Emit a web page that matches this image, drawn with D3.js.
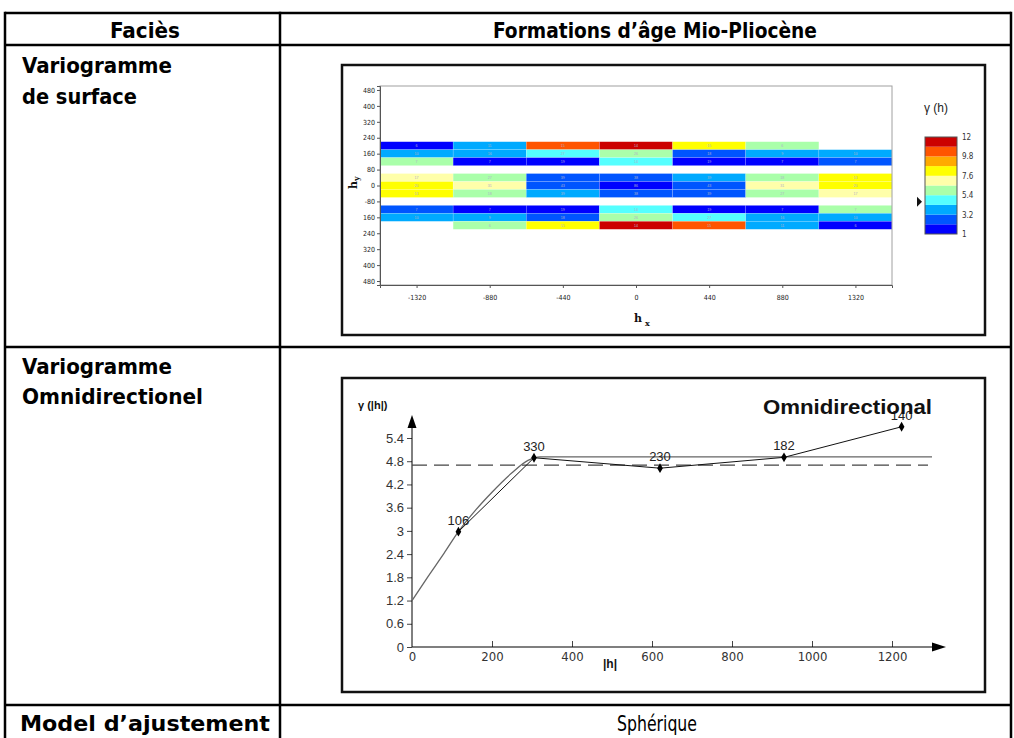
<!DOCTYPE html>
<html>
<head>
<meta charset="utf-8">
<script src="https://cdn.jsdelivr.net/npm/d3@7"></script>
<style>
	body { margin: 0; background: #fff; }
	svg { display: block; }
	.cond { font-family: 'Liberation Sans Narrow', 'DejaVu Sans Condensed', sans-serif; }
	.arial { font-family: 'Liberation Sans', Arial, sans-serif; }
</style>
</head>
<body>
<svg id="fig" width="1014" height="738"></svg>
<script>
// ---- variogram map (surface) ----
const hxCenters = [-1320, -880, -440, 0, 440, 880, 1320];
const hyCenters = [200, 160, 120, 40, 0, -40, -120, -160, -200];
const gammaMap = [
	[1.6, 3.9, 10.3, 11.6, 8.1, 5.9, null],
	[3.7, 3.8, 4.8, 6.1, 2.6, 3.9, 3.6],
	[5.8, 1.5, 1.7, 4.9, 1.8, 1.4, 2.8],
	[7.1, 6.0, 2.5, 2.7, 3.6, 6.2, 8.0],
	[8.3, 7.0, 2.6, 1.4, 2.6, 7.0, 8.3],
	[8.0, 6.2, 3.6, 2.7, 2.5, 6.0, 7.1],
	[2.8, 1.4, 1.8, 4.9, 1.7, 1.5, 5.8],
	[3.6, 3.9, 2.6, 6.1, 4.8, 3.8, 3.7],
	[null, 5.9, 8.1, 11.6, 10.3, 3.9, 1.6]
];
const pairMap = [
	[6, 11, 15, 14, 15, 6, null],
	[10, 16, 27, 26, 18, 9, 10],
	[7, 7, 19, 14, 19, 7, 7],
	[17, 27, 39, 38, 39, 18, 13],
	[20, 31, 43, 86, 43, 31, 20],
	[13, 18, 39, 38, 39, 27, 17],
	[7, 7, 19, 14, 19, 7, 7],
	[10, 9, 18, 26, 27, 16, 10],
	[null, 6, 15, 14, 15, 11, 6]
];
const mapYTicks = [480, 400, 320, 240, 160, 80, 0, -80, -160, -240, -320, -400, -480];
const mapYLabels = ['480', '400', '320', '240', '160', '80', '0', '-80', '160', '240', '320', '400', '480'];
const legendTicks = [12, 9.8, 7.6, 5.4, 3.2, 1];
const bandColors = ['#0000ff', '#0055ff', '#00aaff', '#55ffff', '#aaffaa', '#ffffaa', '#ffff00', '#ffaa00', '#ff5500', '#cc0000'];
const sillMarker = 4.65;

// ---- omnidirectional variogram ----
const lagH = [116, 305, 620, 930, 1224];
const gammaExp = [2.98, 4.89, 4.62, 4.90, 5.69];
const pairLabels = ['106', '330', '230', '182', '140'];
const modelH = [0, 40, 80, 116, 160, 200, 250, 290, 320, 1300];
const modelG = [1.2, 1.82, 2.42, 2.98, 3.55, 4.0, 4.5, 4.82, 4.91, 4.91];
const varianceLine = 4.7;
const varianceEnd = 1290;
const omniYTicks = [0, 0.6, 1.2, 1.8, 2.4, 3, 3.6, 4.2, 4.8, 5.4];
const omniXTicks = [0, 200, 400, 600, 800, 1000, 1200];

const svg = d3.select('#fig');
const plain = d => String(d);

// ---------- table ----------
const tbl = { left: 5, mid: 280, right: 1011, rows: [13, 45, 347, 705], bottom: 740 };
const grid = svg.append('g').attr('stroke', '#000').attr('stroke-width', 2.5);
grid.append('line').attr('x1', tbl.left).attr('x2', tbl.right).attr('y1', tbl.rows[0]).attr('y2', tbl.rows[0]);
tbl.rows.slice(1).forEach(y => {
	grid.append('line').attr('x1', tbl.left).attr('x2', tbl.right).attr('y1', y).attr('y2', y);
});
[tbl.left, tbl.mid, tbl.right].forEach(x => {
	grid.append('line').attr('x1', x).attr('x2', x).attr('y1', tbl.rows[0] - 1.25).attr('y2', tbl.bottom);
});

// text, x, baseline, anchor, bold, width in the reference
function cell(txt, x, y, anchor, bold, w) {
	svg.append('text').attr('class', 'cond').attr('x', x).attr('y', y)
		.attr('text-anchor', anchor).attr('font-size', 22)
		.attr('font-weight', bold ? 'bold' : 'normal').attr('fill', '#000')
		.attr('textLength', w).attr('lengthAdjust', 'spacingAndGlyphs')
		.text(txt);
}
cell('Faciès', 145, 38, 'middle', true, 70);
cell('Formations d’âge Mio-Pliocène', 655, 38, 'middle', true, 324);
cell('Variogramme', 22, 73, 'start', true, 150);
cell('de surface', 22, 104, 'start', true, 115);
cell('Variogramme', 22, 374, 'start', true, 150);
cell('Omnidirectionel', 22, 404, 'start', true, 181);
cell('Model d’ajustement', 145, 731, 'middle', true, 250);
cell('Sphérique', 657, 731, 'middle', false, 80);

// ---------- surface variogram map ----------
svg.append('rect').attr('x', 342).attr('y', 65).attr('width', 643).attr('height', 270)
	.attr('fill', '#fff').attr('stroke', '#111').attr('stroke-width', 2.5);

const mx = d3.scaleLinear().domain([-1540, 1540]).range([380, 892]);
const my = d3.scaleLinear().domain([-500, 500]).range([285, 86]);
const col = d3.scaleQuantize().domain([1, 12]).range(bandColors);
const halfX = 220, halfY = 20;

const cells = [];
hyCenters.forEach((hy, r) => hxCenters.forEach((hx, c) => {
	if (gammaMap[r][c] != null) cells.push({ hx: hx, hy: hy, g: gammaMap[r][c], n: pairMap[r][c] });
}));

const map = svg.append('g');
map.selectAll('rect.cell').data(cells).enter().append('rect')
	.attr('class', 'cell')
	.attr('x', d => mx(d.hx - halfX))
	.attr('y', d => my(d.hy + halfY))
	.attr('width', d => mx(d.hx + halfX) - mx(d.hx - halfX))
	.attr('height', d => my(d.hy - halfY) - my(d.hy + halfY))
	.attr('fill', d => col(d.g))
	.attr('stroke', 'rgba(255,255,255,0.3)').attr('stroke-width', 0.5);
map.selectAll('text.cnt').data(cells).enter().append('text')
	.attr('class', 'cnt arial')
	.attr('x', d => mx(d.hx)).attr('y', d => my(d.hy) + 1.3)
	.attr('text-anchor', 'middle').attr('font-size', 3.6)
	.attr('fill', '#b0b0c8').text(d => d.n);

// plot frame
svg.append('rect').attr('x', 380).attr('y', 86).attr('width', 512).attr('height', 199)
	.attr('fill', 'none').attr('stroke', '#a0a0a0').attr('stroke-width', 1);

const yAx = svg.append('g').attr('transform', 'translate(380,0)')
	.call(d3.axisLeft(my).tickValues(mapYTicks).tickFormat((d, i) => mapYLabels[i]).tickSize(3).tickPadding(2));
const xAx = svg.append('g').attr('transform', 'translate(0,285)')
	.call(d3.axisBottom(mx).tickValues(hxCenters).tickFormat(plain).tickSize(3).tickPadding(7));
[yAx, xAx].forEach(a => {
	a.select('.domain').attr('stroke', '#555');
	a.selectAll('.tick line').attr('stroke', '#555');
	a.selectAll('.tick text').attr('class', 'cond').attr('font-size', 7).attr('fill', '#222');
});

const hyLab = svg.append('text').attr('transform', 'translate(357,189) rotate(-90)')
	.attr('font-family', 'DejaVu Serif, serif').attr('font-weight', 'bold').attr('font-size', 11).attr('fill', '#111');
hyLab.append('tspan').text('h');
hyLab.append('tspan').attr('font-size', 8).attr('dy', 2).text('y');
const hxLab = svg.append('text').attr('x', 634).attr('y', 322)
	.attr('font-family', 'DejaVu Serif, serif').attr('font-weight', 'bold').attr('font-size', 11).attr('fill', '#111');
hxLab.append('tspan').text('h');
hxLab.append('tspan').attr('font-size', 8).attr('dx', 3).attr('dy', 4).text('x');

// legend
const ly = d3.scaleLinear().domain([1, 12]).range([234, 137]);
const bw = (12 - 1) / bandColors.length;
svg.append('g').selectAll('rect').data(bandColors).enter().append('rect')
	.attr('x', 925).attr('width', 32)
	.attr('y', (d, i) => ly(1 + (i + 1) * bw))
	.attr('height', (d, i) => ly(1 + i * bw) - ly(1 + (i + 1) * bw))
	.attr('fill', d => d);
svg.append('rect').attr('x', 925).attr('y', 137).attr('width', 32).attr('height', 97)
	.attr('fill', 'none').attr('stroke', '#555').attr('stroke-width', 1);
const lAx = svg.append('g').attr('transform', 'translate(957,0)')
	.call(d3.axisRight(ly).tickValues(legendTicks).tickFormat(plain).tickSize(0).tickPadding(5));
lAx.select('.domain').remove();
lAx.selectAll('.tick text').attr('class', 'cond').attr('font-size', 8).attr('fill', '#333');
svg.append('text').attr('class', 'arial').attr('x', 924).attr('y', 112)
	.attr('font-size', 12).attr('fill', '#222').text('γ (h)');
svg.append('path')
	.attr('d', 'M0,-5L5,0L0,5Z')
	.attr('transform', 'translate(917,' + ly(sillMarker) + ')')
	.attr('fill', '#111');

// ---------- omnidirectional variogram ----------
svg.append('rect').attr('x', 342).attr('y', 378).attr('width', 643).attr('height', 314)
	.attr('fill', '#fff').attr('stroke', '#111').attr('stroke-width', 2.5);

const ox = d3.scaleLinear().domain([0, 1200]).range([412, 892]);
const oy = d3.scaleLinear().domain([0, 5.4]).range([647, 438]);

const oyAx = svg.append('g').attr('transform', 'translate(412,0)')
	.call(d3.axisLeft(oy).tickValues(omniYTicks).tickFormat(plain).tickSize(5).tickPadding(3));
oyAx.select('.domain').remove();
oyAx.selectAll('.tick line').attr('stroke', '#444');
oyAx.selectAll('.tick text').attr('class', 'arial').attr('font-size', 13).attr('fill', '#333');

const oxAx = svg.append('g').attr('transform', 'translate(0,647)')
	.call(d3.axisBottom(ox).tickValues(omniXTicks).tickFormat(plain).tickSizeInner(-6).tickSizeOuter(0).tickPadding(5));
oxAx.select('.domain').remove();
oxAx.selectAll('.tick line').attr('stroke', '#444').filter(d => d === 0).remove();
oxAx.selectAll('.tick text').attr('class', 'cond').attr('font-size', 13).attr('fill', '#333');

// axis lines with arrows
svg.append('line').attr('x1', 412).attr('x2', 412).attr('y1', 647).attr('y2', 426).attr('stroke', '#000');
svg.append('line').attr('x1', 412).attr('x2', 934).attr('y1', 647).attr('y2', 647).attr('stroke', '#000').attr('stroke-width', 1.2);
svg.append('path').attr('d', 'M412,415L416.5,428L407.5,428Z').attr('fill', '#000');
svg.append('path').attr('d', 'M946,647L932,642.5L932,651.5Z').attr('fill', '#000');

// variance (dashed)
svg.append('line').attr('x1', ox(0)).attr('x2', ox(varianceEnd))
	.attr('y1', oy(varianceLine)).attr('y2', oy(varianceLine))
	.attr('stroke', '#444').attr('stroke-width', 1.1).attr('stroke-dasharray', '15,7');

// model
const model = modelH.map((h, i) => [h, modelG[i]]);
svg.append('path').datum(model)
	.attr('d', d3.line().x(d => ox(d[0])).y(d => oy(d[1])).curve(d3.curveMonotoneX))
	.attr('fill', 'none').attr('stroke', '#666').attr('stroke-width', 1.3);

// experimental
const exp = lagH.map((h, i) => ({ h: h, g: gammaExp[i], n: pairLabels[i] }));
svg.append('path').datum(exp)
	.attr('d', d3.line().x(d => ox(d.h)).y(d => oy(d.g)))
	.attr('fill', 'none').attr('stroke', '#111').attr('stroke-width', 1);
svg.append('g').selectAll('path').data(exp).enter().append('path')
	.attr('d', d3.symbol(d3.symbolDiamond, 28))
	.attr('transform', d => 'translate(' + ox(d.h) + ',' + oy(d.g) + ')')
	.attr('fill', '#000');
svg.append('g').selectAll('text').data(exp).enter().append('text')
	.attr('class', 'arial')
	.attr('x', d => ox(d.h)).attr('y', d => oy(d.g) - 7)
	.attr('text-anchor', 'middle').attr('font-size', 13).attr('fill', '#222')
	.text(d => d.n);

svg.append('text').attr('class', 'arial').attr('x', 932).attr('y', 414)
	.attr('text-anchor', 'end').attr('font-size', 20).attr('font-weight', 'bold').attr('fill', '#111')
	.attr('textLength', 169).attr('lengthAdjust', 'spacingAndGlyphs')
	.text('Omnidirectional');
svg.append('text').attr('class', 'arial').attr('x', 358).attr('y', 409)
	.attr('font-size', 11).attr('font-weight', 'bold').attr('fill', '#111').text('γ (|h|)');
svg.append('text').attr('class', 'arial').attr('x', 610).attr('y', 668)
	.attr('text-anchor', 'middle').attr('font-size', 12).attr('font-weight', 'bold').attr('fill', '#111').text('|h|');
</script>
</body>
</html>
